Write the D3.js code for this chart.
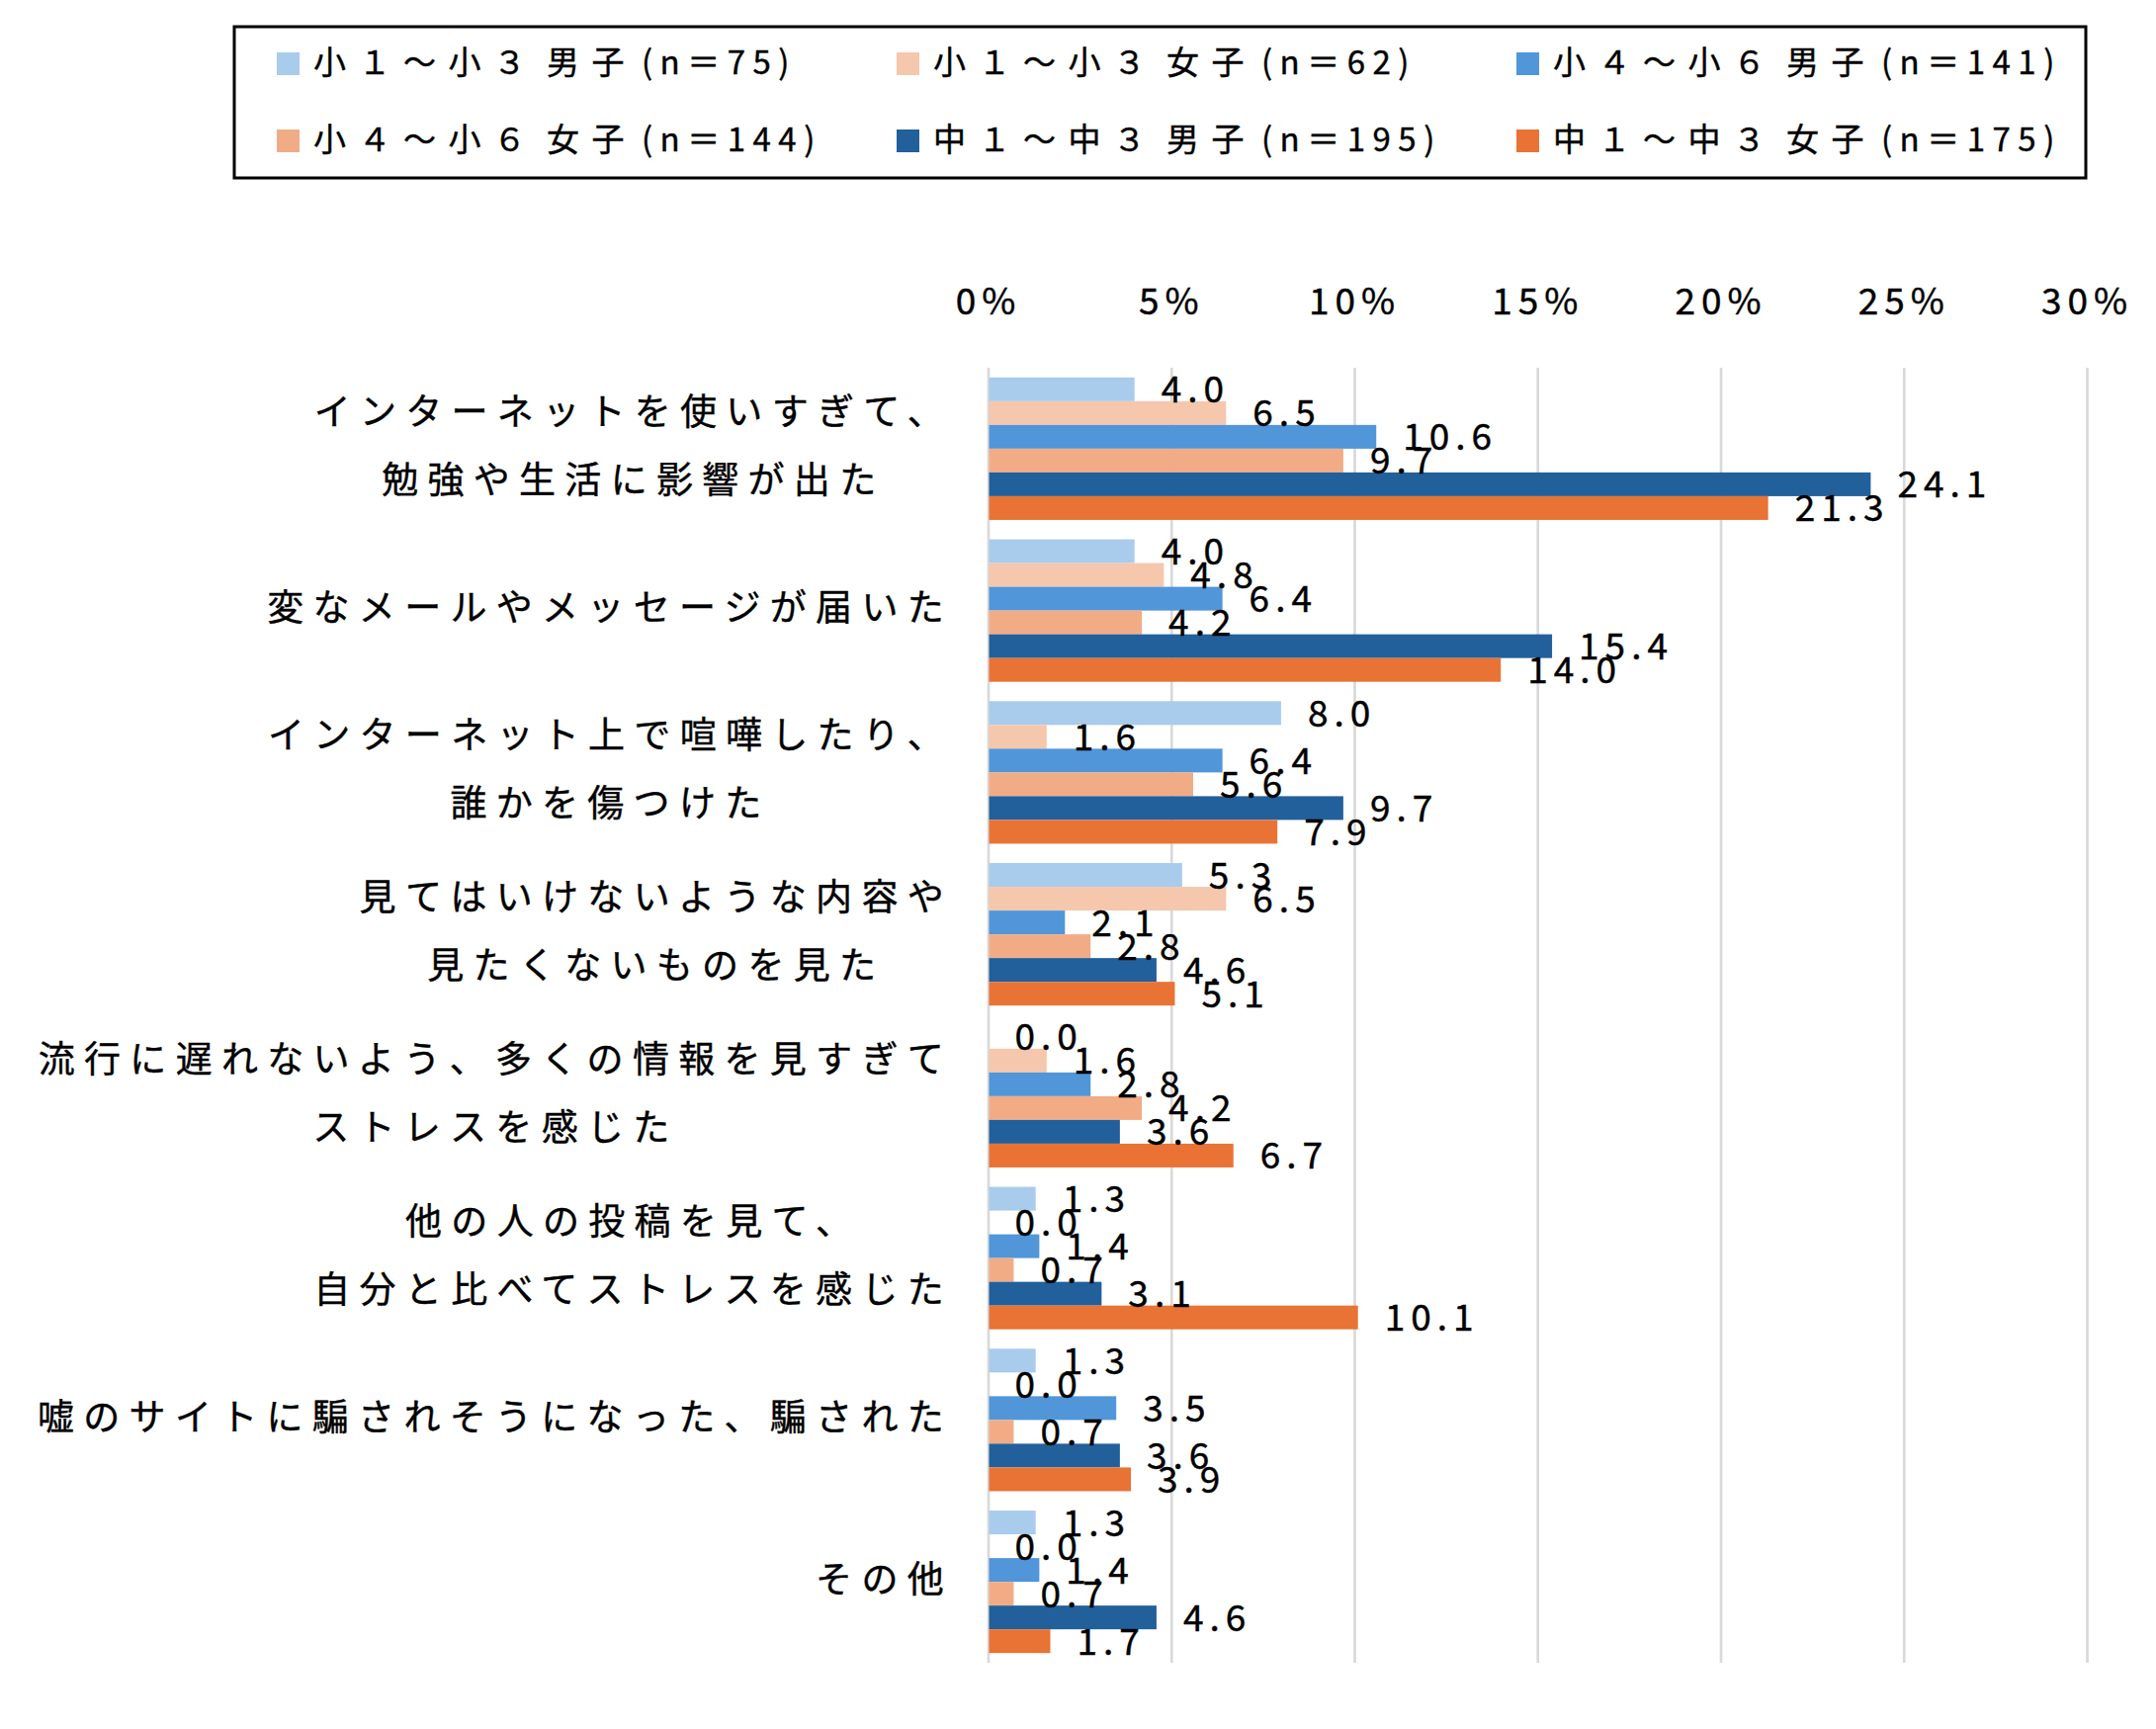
<!DOCTYPE html>
<html><head><meta charset="utf-8">
<script src="https://cdn.jsdelivr.net/npm/d3@7"></script>
<style>
html,body{margin:0;padding:0;background:#fff;}
svg{display:block;font-family:"Noto Sans CJK JP","Noto Sans",sans-serif;}
svg text{stroke:#000;stroke-width:0.4px;}
</style></head>
<body><svg id="chart" width="2181" height="1749"></svg>
<script>
// ---- data ----
const categories = [
  "インターネットを使いすぎて、\n勉強や生活に影響が出た",
  "変なメールやメッセージが届いた",
  "インターネット上で喧嘩したり、\n誰かを傷つけた",
  "見てはいけないような内容や\n見たくないものを見た",
  "流行に遅れないよう、多くの情報を見すぎて\nストレスを感じた",
  "他の人の投稿を見て、\n自分と比べてストレスを感じた",
  "嘘のサイトに騙されそうになった、騙された",
  "その他"
];
const seriesNames = [
  "小１～小３ 男子(n＝75)",
  "小１～小３ 女子(n＝62)",
  "小４～小６ 男子(n＝141)",
  "小４～小６ 女子(n＝144)",
  "中１～中３ 男子(n＝195)",
  "中１～中３ 女子(n＝175)"
];
const seriesColors = ["#A9CBEC","#F5C7AD","#5096D9","#F1AC86","#22609B","#E87335"];
const valsE13M = [4.0, 4.0, 8.0, 5.3, 0.0, 1.3, 1.3, 1.3];
const valsE13F = [6.5, 4.8, 1.6, 6.5, 1.6, 0.0, 0.0, 0.0];
const valsE46M = [10.6, 6.4, 6.4, 2.1, 2.8, 1.4, 3.5, 1.4];
const valsE46F = [9.7, 4.2, 5.6, 2.8, 4.2, 0.7, 0.7, 0.7];
const valsJ13M = [24.1, 15.4, 9.7, 4.6, 3.6, 3.1, 3.6, 4.6];
const valsJ13F = [21.3, 14.0, 7.9, 5.1, 6.7, 10.1, 3.9, 1.7];
const seriesValues = [valsE13M, valsE13F, valsE46M, valsE46F, valsJ13M, valsJ13F];
const tickValues = [0, 5, 10, 15, 20, 25, 30];
const tickLabels = ["0%", "5%", "10%", "15%", "20%", "25%", "30%"];

// ---- layout ----
const svg = d3.select("#chart");
const plotTop = 372, plotBottom = 1682;
const x = d3.scaleLinear().domain([0, 30]).range([999.5, 2111]);
const y = d3.scaleBand().domain(categories.map((d,i)=>i)).range([plotTop, plotBottom])
  .paddingInner(0.12).paddingOuter(0.06);
const ys = d3.scaleBand().domain(seriesNames.map((d,i)=>i)).range([0, y.bandwidth()]);

// gridlines
const grid = svg.append("g").attr("transform", `translate(0,${plotTop})`)
  .call(d3.axisBottom(x).tickValues(tickValues).tickSize(plotBottom - plotTop).tickFormat(""));
grid.select(".domain").remove();
grid.selectAll("line").attr("stroke", "#D9D9D9").attr("stroke-width", 2.7);

// top tick labels
const ax = svg.append("g").attr("transform", "translate(0,318)")
  .call(d3.axisTop(x).tickValues(tickValues).tickSize(0).tickPadding(0)
    .tickFormat((d,i)=>tickLabels[i]));
ax.select(".domain").remove();
ax.selectAll("text").attr("font-size", 37).attr("letter-spacing", 6)
  .attr("fill", "#000").attr("font-family", '"Noto Sans CJK JP"');

// bars
const groups = svg.append("g").selectAll("g").data(categories).join("g")
  .attr("transform", (d,i)=>`translate(0,${y(i)})`);
groups.each(function(cat, ci){
  const g = d3.select(this);
  seriesValues.forEach((vals, si) => {
    g.append("rect")
      .attr("x", x(0) + 1)
      .attr("y", ys(si))
      .attr("width", Math.max(0, x(vals[ci]) - x(0) - 1))
      .attr("height", ys.bandwidth())
      .attr("fill", seriesColors[si]);
  });
});
// data labels
groups.each(function(cat, ci){
  const g = d3.select(this);
  seriesValues.forEach((vals, si) => {
    g.append("text")
      .attr("x", x(vals[ci]) + 27)
      .attr("y", ys(si) + ys.bandwidth()/2 + 13.5)
      .attr("font-size", 37).attr("letter-spacing", 6).attr("fill", "#000")
      .text(vals[ci].toFixed(1));
  });
});

// category labels
const labelRight = 964, catFs = 37, lineGap = 69;
categories.forEach((cat, ci) => {
  const lines = cat.split("\n");
  const cy = y(ci) + y.bandwidth()/2 - 3.5;
  const g = svg.append("g");
  const texts = lines.map((ln, li) => g.append("text")
    .attr("font-size", catFs).attr("letter-spacing", 9.3).attr("fill", "#000")
    .attr("text-anchor", "middle")
    .attr("y", cy + (li - (lines.length-1)/2) * lineGap + 0.38*catFs)
    .text(ln));
  const maxW = d3.max(texts, t => t.node().getComputedTextLength());
  texts.forEach(t => t.attr("x", labelRight - maxW/2));
});

// legend
svg.append("rect").attr("x", 237).attr("y", 27).attr("width", 2110-237).attr("height", 153)
  .attr("fill", "none").attr("stroke", "#000").attr("stroke-width", 3);
const legCols = [280, 907, 1534], legRows = [62, 140];
const leg = svg.append("g").selectAll("g").data(seriesNames).join("g")
  .attr("transform", (d,i)=>`translate(${legCols[i%3]},${legRows[Math.floor(i/3)]})`);
leg.append("rect").attr("x", 0).attr("y", -9).attr("width", 23).attr("height", 23)
  .attr("fill", (d,i)=>seriesColors[i]);
const legText = leg.append("text").attr("x", 37).attr("y", 0.38*33)
  .attr("font-size", 33).attr("fill", "#000");
legText.each(function(d){
  const t = d3.select(this);
  Array.from(d).forEach(ch => {
    const narrow = /[()n0-9=＝]/.test(ch);
    const ts = t.append("tspan")
      .attr("letter-spacing", ch === " " ? 1 : (narrow ? 7.5 : 12.5)).text(ch);
    if (ch === "(") ts.attr("dx", 5);
  });
});
</script></body></html>
